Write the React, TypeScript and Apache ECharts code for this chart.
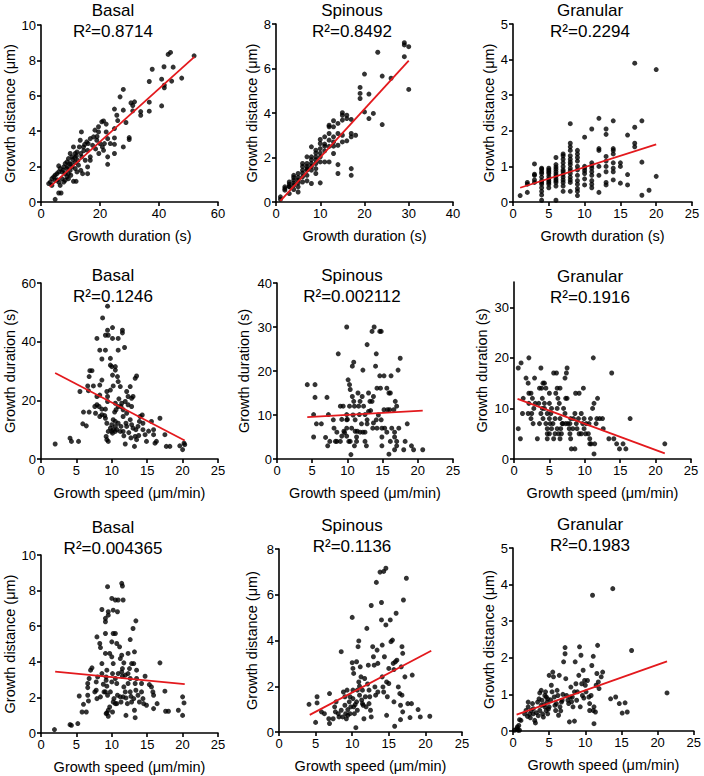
import React, { useEffect, useRef } from "react";
import * as echarts from "echarts";

const FONT = "'Liberation Sans', Arial, Helvetica, sans-serif";

// ---------- DATA ----------
const cellTypes = ["Basal", "Spinous", "Granular"];
const r2Labels = [
  ["R²=0.8714", "R²=0.8492", "R²=0.2294"],
  ["R²=0.1246", "R²=0.002112", "R²=0.1916"],
  ["R²=0.004365", "R²=0.1136", "R²=0.1983"],
];

// Row 1: growth duration (s) vs growth distance (µm)
const basalDurDist: [number, number][] = [
  [51.9, 8.26], [43.1, 8.34], [43.9, 8.45], [41.7, 7.64], [37.7, 7.5], [36.7, 6.81], [40.9, 6.94],
  [41.8, 6.6], [41.8, 6.45], [44.8, 7.62], [44.3, 6.83], [47.7, 7.0], [40.9, 5.43], [36.7, 5.64],
  [36.7, 5.13], [33.8, 5.11], [33.8, 4.9], [31.7, 5.66], [31.1, 5.45], [31.1, 5.15], [27.9, 6.36],
  [26.8, 5.94], [27.9, 5.19], [24.9, 5.25], [28.8, 4.49], [29.9, 3.64], [29.9, 3.53], [27.9, 3.11],
  [25.7, 4.9], [24.9, 4.15], [24.9, 3.62], [24.9, 3.26], [24.9, 2.74], [22.1, 4.4], [22.1, 3.96],
  [22.6, 3.58], [22.6, 2.55], [22.6, 2.13], [20.6, 4.53], [21.2, 4.58], [19.5, 4.25], [19.5, 3.96],
  [18.3, 4.06], [17.8, 3.68], [18.9, 3.49], [20.0, 3.3], [20.8, 3.11], [21.5, 3.3], [19.6, 2.74],
  [21.2, 2.92], [16.7, 3.58], [15.5, 3.4], [15.8, 2.92], [16.7, 2.55], [16.7, 2.36], [13.7, 3.96],
  [13.3, 3.49], [14.4, 3.11], [13.0, 3.11], [12.2, 2.83], [13.5, 2.74], [11.0, 3.11], [11.6, 2.74],
  [9.9, 2.74], [10.5, 2.55], [9.3, 2.45], [8.8, 2.26], [8.2, 2.17], [9.7, 2.17], [11.6, 2.23],
  [12.7, 2.08], [13.8, 2.55], [15.0, 2.36], [15.8, 1.98], [15.8, 1.6], [11.0, 1.17], [11.9, 1.17],
  [7.7, 1.98], [6.5, 1.89], [6.0, 1.7], [7.1, 1.7], [8.2, 1.6], [9.3, 1.6], [5.4, 1.6], [4.8, 1.51],
  [6.0, 2.04], [4.3, 1.42], [3.7, 1.32], [4.8, 1.23], [3.2, 1.13], [2.6, 1.04], [3.7, 0.94],
  [6.0, 1.13], [7.1, 1.32], [7.7, 1.13], [8.2, 1.23], [6.5, 0.94], [6.0, 0.51], [6.8, 0.51],
  [4.8, 0.15], [8.8, 1.42], [9.9, 1.79], [10.5, 1.98], [11.6, 1.89], [12.2, 1.7], [13.5, 1.79],
  [14.1, 1.6], [8.8, 1.89], [10.1, 1.51], [9.3, 1.32], [10.8, 2.4], [12.0, 2.6], [14.5, 2.9],
  [17.5, 3.2], [18.5, 3.0], [12.5, 2.35], [10.2, 2.15], [7.5, 1.8], [5.5, 1.25], [16.0, 3.3],
  [19.0, 3.7], [14.8, 3.25], [11.5, 2.5], [9.0, 2.0], [23.5, 3.3], [26.0, 4.6], [30.5, 5.6],
];

const spinousDurDist: [number, number][] = [
  [1, 0.23], [1, 0.12], [2, 0.68], [2, 0.53], [2, 0.6], [3, 0.9], [3, 0.68], [3, 0.38], [3, 0.8],
  [3, 0.7], [4, 1.2], [4, 0.98], [4, 0.75], [4, 0.56], [4, 1.1], [4, 0.85], [5, 1.28], [5, 0.98],
  [5, 0.68], [5, 0.45], [5, 1.1], [5, 0.85], [6, 1.73], [6, 1.43], [6, 1.13], [6, 0.9], [6, 1.6],
  [6, 1.3], [7, 2.03], [7, 1.73], [7, 1.43], [7, 1.2], [7, 1.6], [7, 0.95], [7, 1.5], [8, 2.48],
  [8, 2.03], [8, 1.73], [8, 1.43], [8, 0.83], [8, 1.9], [8, 1.6], [9, 2.33], [9, 2.03], [9, 1.73],
  [9, 1.5], [9, 1.28], [9, 2.2], [9, 1.9], [10, 2.81], [10, 2.63], [10, 2.4], [10, 2.03], [10, 0.86],
  [10, 1.8], [10, 2.2], [11, 2.93], [11, 2.51], [11, 2.3], [11, 1.8], [11, 2.6], [12, 3.38], [12, 3.08],
  [12, 2.78], [12, 1.8], [12, 3.45], [12, 2.5], [13, 3.38], [13, 2.93], [13, 2.51], [13, 2.18],
  [13, 3.65], [13, 2.7], [14, 3.53], [14, 3.08], [14, 2.55], [14, 1.68], [14, 1.28], [15, 4.01],
  [15, 3.9], [15, 3.68], [15, 3.0], [15, 2.7], [16, 3.9], [16, 3.75], [16, 2.75], [17, 3.71],
  [17, 3.08], [17, 2.93], [17, 1.5], [17, 1.2], [18, 3.0], [19, 5.15], [19, 4.88], [19, 4.65],
  [20, 5.75], [20, 4.05], [21, 4.85], [21, 3.75], [22, 3.98], [23, 6.73], [24, 5.66], [24, 3.48],
  [26, 5.56], [29, 7.16], [29, 7.06], [29, 6.53], [30, 6.98], [30, 5.06],
];

const granularDurDist: [number, number][] = [
  [1, 0.18], [2, 0.27], [2, 0.5], [2, 0.55], [3, 0.55], [3, 0.62], [3, 0.75], [3, 0.78], [3, 1.07],
  [4, 0.05], [4, 0.2], [4, 0.3], [4, 0.4], [4, 0.5], [4, 0.55], [4, 0.6], [4, 0.7], [4, 0.8], [4, 0.85],
  [4, 0.92], [4, 0.95], [5, 0.4], [5, 0.5], [5, 0.55], [5, 0.6], [5, 0.65], [5, 0.72], [5, 0.8],
  [5, 0.85], [5, 0.9], [5, 0.95], [6, 0.05], [6, 0.45], [6, 0.55], [6, 0.6], [6, 0.65], [6, 0.72],
  [6, 0.78], [6, 0.85], [6, 0.92], [6, 0.98], [6, 1.05], [6, 1.25], [7, 0.3], [7, 0.45], [7, 0.55],
  [7, 0.62], [7, 0.7], [7, 0.78], [7, 0.85], [7, 0.9], [7, 1.0], [7, 1.1], [7, 1.2], [7, 1.3], [7, 1.35],
  [8, 0.3], [8, 0.55], [8, 0.62], [8, 0.7], [8, 0.8], [8, 0.88], [8, 0.95], [8, 1.05], [8, 1.12],
  [8, 1.2], [8, 1.3], [8, 1.45], [8, 1.55], [8, 1.65], [8, 2.2], [9, 0.18], [9, 0.3], [9, 0.38],
  [9, 0.5], [9, 0.6], [9, 0.75], [9, 0.9], [9, 1.0], [9, 1.15], [9, 1.25], [9, 1.35], [9, 1.45],
  [10, 0.48], [10, 0.65], [10, 0.8], [10, 0.88], [10, 0.95], [10, 1.0], [10, 1.82], [11, 0.4],
  [11, 0.5], [11, 0.6], [11, 0.75], [11, 0.85], [11, 0.95], [11, 1.02], [11, 1.1], [11, 2.05],
  [12, 0.27], [12, 0.75], [12, 1.0], [12, 1.45], [12, 1.5], [12, 2.35], [13, 0.48], [13, 0.55],
  [13, 0.85], [13, 1.0], [13, 1.15], [13, 1.28], [13, 1.9], [13, 2.05], [14, 0.62], [14, 0.85],
  [14, 0.95], [14, 1.1], [14, 1.35], [14, 1.45], [14, 1.5], [14, 2.28], [15, 0.53], [15, 1.0],
  [15, 1.1], [16, 0.48], [16, 0.77], [16, 1.88], [17, 1.55], [17, 1.65], [17, 2.1], [17, 3.9],
  [18, 0.19], [18, 1.12], [18, 2.28], [19, 0.33], [20, 0.72], [20, 3.72],
];

// Row 2: growth speed (µm/min) vs growth duration (s)
const basalSpeedDur: [number, number][] = [
  [2.0, 5.1], [4.1, 7.1], [4.3, 6.0], [5.3, 6.0], [5.5, 23.0], [5.9, 12.0], [6.4, 11.3], [6.0, 16.0],
  [6.8, 16.0], [6.6, 24.9], [6.8, 28.1], [7.2, 30.1], [6.9, 30.1], [6.7, 23.3], [7.9, 41.1], [8.3, 37.1],
  [8.6, 34.1], [8.7, 48.1], [9.1, 37.1], [9.1, 42.2], [9.4, 43.9], [9.5, 42.2], [9.4, 52.1], [10.1, 44.8],
  [10.1, 41.1], [10.9, 41.1], [10.9, 37.1], [9.8, 34.3], [9.8, 32.0], [10.0, 31.5], [10.5, 31.5],
  [10.5, 30.3], [10.1, 28.6], [11.5, 43.9], [11.5, 43.0], [11.8, 38.0], [10.8, 28.1], [10.9, 26.4],
  [7.4, 24.9], [8.3, 25.2], [8.6, 26.9], [7.9, 21.3], [8.3, 21.8], [9.3, 23.0], [9.4, 21.3], [9.4, 19.6],
  [7.9, 18.5], [7.6, 17.9], [8.2, 17.9], [8.6, 17.0], [9.1, 17.0], [7.7, 15.6], [8.6, 15.1], [8.3, 14.5],
  [9.1, 13.9], [9.3, 12.2], [10.2, 24.9], [11.2, 24.7], [9.8, 23.5], [10.5, 19.0], [10.9, 17.9],
  [10.6, 16.8], [11.4, 19.0], [11.3, 17.9], [12.1, 23.0], [12.6, 24.7], [12.3, 21.3], [12.8, 20.7],
  [13.0, 21.3], [13.3, 27.5], [13.5, 28.3], [11.9, 19.6], [11.6, 16.8], [12.3, 18.5], [12.1, 15.6],
  [12.8, 17.9], [10.2, 13.4], [10.0, 11.7], [9.8, 10.5], [10.2, 10.0], [9.5, 9.4], [9.2, 7.7], [9.3, 6.6],
  [9.5, 6.0], [10.0, 9.4], [10.5, 9.4], [10.1, 8.8], [10.7, 10.0], [11.2, 9.4], [11.6, 14.5], [12.0, 12.2],
  [12.1, 11.1], [11.6, 9.4], [11.7, 7.9], [11.9, 5.1], [12.6, 13.4], [12.8, 11.7], [13.0, 10.5],
  [13.3, 7.7], [13.2, 4.3], [13.5, 6.6], [13.4, 10.0], [13.7, 11.1], [14.0, 14.5], [13.9, 12.8],
  [14.4, 12.2], [14.4, 10.0], [14.7, 8.3], [14.9, 6.0], [15.6, 12.8], [15.9, 10.0], [15.9, 8.3],
  [16.1, 5.4], [16.3, 6.0], [16.8, 13.9], [17.5, 8.3], [17.7, 4.3], [18.2, 4.3], [19.6, 4.5], [20.0, 3.2],
  [20.2, 5.4], [20.3, 4.9], [10.5, 12.8], [10.9, 12.2], [11.3, 11.1], [10.5, 11.1], [12.4, 9.0],
  [13.8, 8.0], [14.3, 15.0], [11.0, 20.5], [9.0, 14.8], [10.4, 16.0], [12.7, 7.2], [15.2, 9.5],
];

const spinousSpeedDur: [number, number][] = [
  [4.3, 16.9], [5.4, 16.9], [5.4, 14.0], [5.2, 10.1], [5.2, 5.0], [5.6, 8.0], [6.3, 8.0], [7.1, 14.0],
  [6.9, 4.9], [7.2, 3.0], [7.3, 10.1], [7.5, 4.0], [8.0, 8.9], [8.1, 7.0], [8.3, 4.0], [8.7, 23.9],
  [9.0, 12.0], [9.4, 12.0], [8.5, 6.1], [8.5, 4.0], [9.0, 4.0], [9.2, 5.2], [9.5, 6.3], [9.9, 30.0],
  [10.1, 18.0], [10.3, 16.9], [10.4, 15.8], [9.9, 10.1], [9.9, 8.9], [9.9, 7.0], [9.9, 5.2], [10.2, 4.0],
  [10.4, 4.0], [10.7, 21.1], [10.9, 22.0], [10.5, 1.0], [10.7, 14.2], [10.9, 13.1], [11.0, 12.0],
  [11.1, 8.9], [11.1, 6.3], [11.4, 6.3], [11.3, 4.0], [11.0, 3.0], [11.6, 12.0], [11.8, 13.1],
  [11.7, 10.1], [11.8, 6.1], [12.2, 6.1], [12.1, 14.2], [12.2, 20.2], [12.5, 6.1], [12.5, 4.0],
  [12.5, 10.1], [12.8, 26.0], [13.0, 15.0], [13.2, 13.1], [13.0, 10.8], [12.8, 8.9], [12.8, 8.0],
  [12.7, 3.0], [13.5, 29.0], [13.8, 30.0], [14.0, 21.1], [14.1, 23.9], [14.2, 16.1], [13.7, 14.2],
  [13.5, 13.1], [13.7, 8.2], [13.6, 7.0], [14.2, 7.0], [14.1, 8.9], [14.6, 29.0], [14.8, 29.0],
  [14.6, 18.9], [15.2, 18.9], [14.7, 16.1], [14.8, 8.9], [14.9, 7.0], [14.9, 5.0], [14.9, 3.0],
  [15.2, 11.2], [15.6, 16.1], [15.9, 15.0], [16.1, 15.0], [15.7, 11.2], [16.0, 11.2], [15.9, 1.1],
  [16.1, 4.0], [16.2, 18.9], [16.6, 11.2], [16.8, 13.1], [16.7, 6.1], [16.7, 5.0], [16.7, 2.1],
  [17.0, 4.0], [17.0, 3.0], [17.0, 12.0], [17.2, 20.2], [17.3, 7.0], [17.5, 22.9], [18.0, 2.1],
  [18.2, 4.0], [18.5, 8.0], [19.1, 3.0], [19.4, 2.1], [20.7, 2.1], [16.3, 7.0], [15.6, 6.1],
  [15.3, 7.0], [10.0, 9.0], [10.6, 7.0], [11.3, 5.0], [12.0, 8.0], [9.6, 6.0], [10.8, 10.0],
  [11.5, 15.0], [12.3, 12.0], [13.3, 11.0], [14.4, 10.0], [10.3, 12.0], [9.2, 9.0],
];

const granularSpeedDur: [number, number][] = [
  [0.6, 18], [1.0, 19], [1.3, 12], [1.2, 9], [0.6, 6], [0.9, 4], [1.7, 16], [2.1, 20], [2.0, 15],
  [2.1, 13], [2.4, 13], [2.1, 11], [2.0, 9], [2.5, 9], [2.4, 8], [2.6, 12], [2.8, 10], [2.7, 7],
  [2.9, 16], [3.3, 4], [3.5, 11], [3.6, 14], [3.8, 18], [3.9, 14], [3.8, 9], [3.6, 7], [4.0, 12],
  [4.1, 15], [4.3, 15], [4.5, 14], [4.3, 11], [4.3, 10], [4.1, 8], [4.5, 7], [4.7, 9], [4.7, 6],
  [4.7, 5], [4.7, 4], [5.0, 13], [5.0, 11], [5.0, 8], [5.1, 7], [5.0, 5], [5.3, 10], [5.3, 6],
  [5.6, 17], [6.0, 17], [5.8, 8], [5.8, 5], [5.6, 4], [5.9, 13], [6.1, 14], [6.2, 12], [6.1, 10],
  [6.1, 6], [6.3, 5], [6.5, 14], [6.5, 8], [6.5, 4], [6.7, 5], [6.8, 7], [7.2, 16], [7.4, 17],
  [7.5, 18], [7.3, 12], [7.5, 12], [7.2, 9], [7.3, 7], [7.6, 7], [7.8, 6], [7.9, 7], [7.9, 5], [8.0, 8],
  [8.0, 4], [8.1, 2], [8.3, 6], [8.6, 9], [8.6, 2], [8.7, 13], [8.8, 7], [8.9, 6], [9.1, 8], [9.2, 13],
  [9.2, 5], [9.5, 9], [9.7, 7], [9.8, 14], [9.9, 6], [9.9, 8], [10.1, 5], [10.2, 7], [10.5, 5], [10.6, 7],
  [10.7, 4], [10.7, 3], [10.9, 3], [10.8, 8], [11.1, 10], [11.2, 20], [11.3, 11], [11.3, 1], [11.4, 3],
  [11.6, 7], [11.8, 12], [11.7, 8], [12.1, 8], [12.5, 8], [12.6, 6], [13.4, 4], [13.8, 17], [14.1, 4],
  [14.5, 3], [14.9, 2], [15.4, 3], [15.8, 2], [16.4, 8], [21.3, 3], [5.5, 7], [6.6, 6], [7.0, 10],
  [8.4, 8], [5.2, 9], [6.9, 7], [3.0, 11], [4.0, 10], [9.5, 5], [6.4, 11],
];

// Row 3: growth speed (µm/min) vs growth distance (µm)
const basalSpeedDist: [number, number][] = [
  [1.9, 0.19], [4.1, 0.47], [4.3, 0.43], [5.2, 0.53], [5.4, 2.08], [5.8, 1.18], [6.0, 1.61], [6.4, 1.18],
  [6.6, 2.12], [6.6, 2.55], [6.6, 2.78], [6.8, 3.06], [7.0, 3.53], [7.2, 3.66], [6.7, 1.8], [7.6, 2.31],
  [7.8, 2.4], [7.9, 1.93], [7.8, 2.87], [7.9, 5.4], [8.0, 3.15], [8.3, 5.03], [8.4, 4.8], [8.4, 2.03],
  [8.6, 6.94], [8.6, 3.34], [8.6, 3.9], [8.8, 2.74], [8.9, 2.31], [9.1, 6.44], [9.1, 6.25], [9.1, 5.59],
  [9.1, 4.47], [9.1, 2.31], [9.2, 3.15], [9.2, 2.96], [9.3, 3.53], [9.3, 2.63], [9.4, 2.12], [9.3, 1.13],
  [9.5, 1.28], [9.4, 8.22], [9.5, 6.81], [9.5, 6.62], [9.2, 1.09], [9.5, 0.94], [9.7, 1.46], [9.8, 2.31],
  [9.7, 4.47], [10.0, 7.56], [10.2, 6.9], [10.5, 7.47], [10.0, 5.12], [10.2, 5.59], [10.0, 4.28],
  [10.2, 3.9], [10.1, 3.34], [10.0, 2.87], [10.2, 1.74], [10.5, 1.65], [10.5, 3.06], [10.7, 1.65],
  [10.3, 1.93], [10.1, 1.18], [10.5, 5.59], [10.7, 2.78], [10.8, 6.81], [10.9, 7.47], [10.7, 5.03],
  [11.1, 4.84], [11.2, 4.18], [10.9, 3.34], [11.2, 2.03], [11.3, 1.74], [10.8, 2.12], [11.4, 8.41],
  [11.5, 8.26], [11.6, 7.47], [11.4, 4.37], [11.7, 3.94], [11.5, 3.62], [11.4, 3.43], [11.5, 3.19],
  [11.9, 3.25], [11.7, 2.59], [11.9, 2.31], [11.6, 2.03], [12.0, 1.97], [12.0, 0.99], [12.2, 1.65],
  [12.3, 4.47], [12.6, 5.25], [12.8, 3.9], [12.5, 3.62], [12.3, 3.34], [12.6, 3.06], [12.3, 2.78],
  [12.6, 2.31], [12.7, 2.06], [12.8, 1.74], [13.0, 5.87], [13.4, 6.3], [13.1, 3.9], [13.2, 4.56],
  [13.3, 2.78], [13.4, 2.4], [13.1, 1.93], [13.2, 1.28], [13.3, 0.86], [13.5, 3.53], [13.5, 3.06],
  [13.7, 2.12], [13.9, 1.74], [14.2, 2.31], [14.2, 2.78], [14.4, 1.93], [14.5, 1.65], [14.7, 3.19],
  [14.9, 1.56], [15.3, 2.72], [15.6, 2.59], [15.8, 2.31], [15.9, 1.37], [15.9, 2.12], [16.4, 1.65],
  [16.8, 3.94], [17.5, 2.35], [17.6, 1.22], [18.0, 1.22], [19.4, 1.28], [20.0, 2.03], [20.0, 0.99],
  [20.2, 1.69],
];

const spinousSpeedDist: [number, number][] = [
  [4.1, 1.21], [5.2, 1.54], [5.2, 1.27], [5.0, 0.42], [5.8, 0.88], [6.2, 0.8], [6.9, 1.68], [6.9, 0.37],
  [6.8, 0.58], [7.4, 0.58], [7.6, 1.1], [7.8, 1.32], [7.7, 0.88], [8.1, 0.8], [8.2, 0.66], [8.5, 3.51],
  [8.5, 0.95], [8.7, 0.66], [8.8, 1.75], [9.0, 1.54], [9.0, 1.17], [9.1, 0.8], [9.2, 0.58], [9.3, 1.83],
  [9.4, 0.98], [9.4, 0.73], [9.6, 1.32], [9.7, 1.54], [9.7, 0.8], [10.0, 5.01], [10.0, 3.03],
  [10.1, 2.78], [10.2, 2.56], [10.1, 1.83], [10.1, 1.46], [10.2, 1.1], [10.3, 0.8], [10.5, 0.19],
  [10.6, 3.07], [10.6, 1.32], [10.7, 1.83], [10.7, 0.95], [10.8, 3.73], [10.9, 3.98], [10.9, 2.19],
  [11.0, 1.61], [11.1, 2.85], [11.2, 2.41], [11.4, 1.83], [11.4, 1.24], [11.5, 1.17], [11.6, 0.58],
  [11.7, 2.34], [11.8, 1.54], [11.9, 1.1], [12.0, 4.53], [12.2, 2.92], [12.3, 1.83], [12.3, 1.24],
  [12.4, 1.54], [12.5, 0.95], [12.6, 0.66], [12.6, 5.53], [12.8, 3.73], [12.9, 3.29], [13.0, 2.92],
  [13.1, 1.97], [13.2, 1.61], [13.3, 6.54], [13.4, 3.58], [13.5, 3.0], [13.5, 1.75], [13.8, 6.99],
  [14.0, 4.9], [14.0, 5.66], [14.1, 3.8], [14.1, 2.41], [14.2, 1.97], [14.3, 1.75], [14.3, 7.02],
  [14.4, 3.29], [14.6, 4.68], [14.6, 7.16], [14.7, 2.19], [14.7, 0.73], [14.8, 1.54], [15.0, 2.12],
  [15.0, 2.78], [15.2, 4.9], [15.3, 3.95], [15.5, 4.02], [15.6, 3.0], [15.7, 2.73], [15.7, 1.32],
  [15.8, 0.25], [15.9, 3.07], [16.0, 5.19], [16.1, 3.14], [16.3, 1.97], [16.5, 1.68], [16.6, 1.17],
  [16.6, 0.54], [16.7, 2.85], [16.8, 3.73], [16.9, 3.44], [17.0, 5.77], [16.8, 1.61], [16.9, 0.88],
  [17.2, 2.41], [17.4, 6.72], [17.6, 1.24], [17.9, 0.63], [18.2, 2.49], [18.1, 1.24], [19.0, 0.98],
  [19.3, 0.66], [20.6, 0.69], [11.0, 2.0], [10.4, 1.2], [9.8, 1.1], [11.3, 1.4], [12.1, 2.1],
];

const granularSpeedDist: [number, number][] = [
  [0.2, 0.02], [0.5, 0.06], [0.6, 0.11], [0.8, 0.15], [0.9, 0.31], [1.1, 0.29], [0.7, 0.02], [0.9, 0.02],
  [1.6, 0.47], [1.8, 0.56], [2.1, 0.66], [2.1, 0.79], [2.3, 0.46], [2.4, 0.36], [2.5, 0.56], [2.7, 0.75],
  [2.8, 0.47], [3.0, 0.29], [2.8, 0.61], [3.1, 0.22], [3.4, 0.79], [3.6, 0.88], [3.7, 1.04], [3.7, 0.56],
  [3.9, 1.11], [3.9, 0.7], [4.0, 0.84], [4.1, 0.47], [4.2, 0.38], [4.4, 0.97], [4.4, 0.66], [4.5, 1.07],
  [4.6, 0.93], [4.6, 0.56], [4.7, 0.79], [4.8, 0.88], [4.8, 0.47], [5.0, 0.66], [5.0, 1.52], [5.3, 1.25],
  [5.4, 1.07], [5.5, 1.61], [5.6, 1.48], [5.7, 0.93], [5.9, 0.56], [6.0, 0.75], [6.1, 1.11], [6.2, 0.97],
  [6.3, 0.43], [6.4, 1.52], [6.5, 0.66], [6.7, 0.79], [6.8, 0.84], [7.2, 2.28], [7.2, 2.11], [7.0, 1.89],
  [7.3, 1.43], [7.4, 0.97], [7.6, 0.84], [7.7, 0.75], [7.8, 0.25], [7.9, 0.93], [8.0, 1.2], [8.2, 0.93],
  [8.3, 0.66], [8.5, 0.27], [8.5, 1.07], [8.6, 1.89], [8.7, 1.29], [8.8, 0.84], [8.9, 1.07], [9.1, 1.52],
  [9.2, 2.3], [9.3, 0.66], [9.4, 2.07], [9.5, 1.29], [9.6, 0.97], [9.7, 1.66], [9.9, 1.38], [10.0, 1.25],
  [10.1, 1.07], [10.3, 1.38], [10.5, 0.93], [10.6, 0.75], [10.6, 0.56], [10.8, 0.97], [10.9, 1.79],
  [11.0, 3.71], [11.1, 2.04], [11.1, 0.56], [11.2, 0.2], [11.2, 0.66], [11.4, 0.52], [11.5, 1.25],
  [11.6, 1.57], [11.7, 2.34], [11.8, 1.34], [11.9, 1.16], [12.2, 1.48], [12.4, 1.61], [13.5, 0.88],
  [13.8, 3.89], [14.2, 0.93], [14.7, 0.75], [15.1, 0.49], [15.5, 0.77], [15.8, 0.52], [16.4, 2.2],
  [21.3, 1.04], [3.2, 0.5], [4.9, 0.6], [5.8, 0.7], [6.6, 0.55], [3.5, 0.42], [4.3, 0.72], [5.2, 0.85],
  [2.0, 0.4], [6.9, 1.0], [8.1, 0.8], [9.8, 0.9],
];

// Linear fit lines (endpoints)
const basalDurDistFit: [number, number][] = [[3, 0.85], [52, 8.2]];
const spinousDurDistFit: [number, number][] = [[1, 0.05], [30, 6.35]];
const granularDurDistFit: [number, number][] = [[1, 0.4], [20, 1.62]];
const basalSpeedDurFit: [number, number][] = [[2, 29.3], [20.3, 6.3]];
const spinousSpeedDurFit: [number, number][] = [[4.3, 9.5], [20.7, 11.0]];
const granularSpeedDurFit: [number, number][] = [[0.5, 11.9], [21.3, 1.1]];
const basalSpeedDistFit: [number, number][] = [[2, 3.45], [20.3, 2.75]];
const spinousSpeedDistFit: [number, number][] = [[4.2, 0.75], [20.8, 3.55]];
const granularSpeedDistFit: [number, number][] = [[0.5, 0.45], [21.3, 1.9]];

// Axis ranges [min, max, interval]
const durationAxisBasal = [0, 60, 20];
const durationAxisSpinous = [0, 40, 10];
const durationAxisGranular = [0, 25, 5];
const speedAxis = [0, 25, 5];
const distAxisBasal = [0, 10, 2];
const distAxisSpinous = [0, 8, 2];
const distAxisGranular = [0, 5, 1];
const durYAxisBasal = [0, 60, 20];
const durYAxisSpinous = [0, 40, 10];
const durYAxisGranular = [0, 35, 10];
const durYTicksGranular = [0, 10, 20, 30];

const X_DUR = "Growth duration (s)";
const X_SPEED = "Growth speed (μm/min)";
const Y_DIST = "Growth distance (μm)";
const Y_DUR = "Growth duration (s)";

// ---------- LAYOUT ----------
type Panel = {
  grid: [number, number, number, number];
  xr: number[];
  yr: number[];
  yTicks?: number[];
  xName: string;
  yName: string;
  yGap: number;
  data: [number, number][];
  fit: [number, number][];
  title: string;
  r2: string;
  tx: number;
  ty: number;
};

const panels: Panel[] = [
  { grid: [41, 25, 177, 177], xr: durationAxisBasal, yr: distAxisBasal, xName: X_DUR, yName: Y_DIST, yGap: 24, data: basalDurDist, fit: basalDurDistFit, title: cellTypes[0], r2: r2Labels[0][0], tx: 113, ty: 10 },
  { grid: [276, 24, 177, 178], xr: durationAxisSpinous, yr: distAxisSpinous, xName: X_DUR, yName: Y_DIST, yGap: 17, data: spinousDurDist, fit: spinousDurDistFit, title: cellTypes[1], r2: r2Labels[0][1], tx: 352, ty: 10 },
  { grid: [513, 24, 179, 178], xr: durationAxisGranular, yr: distAxisGranular, xName: X_DUR, yName: Y_DIST, yGap: 16, data: granularDurDist, fit: granularDurDistFit, title: cellTypes[2], r2: r2Labels[0][2], tx: 590, ty: 10 },
  { grid: [41, 283, 177, 176], xr: speedAxis, yr: durYAxisBasal, xName: X_SPEED, yName: Y_DUR, yGap: 24, data: basalSpeedDur, fit: basalSpeedDurFit, title: cellTypes[0], r2: r2Labels[1][0], tx: 113, ty: 275 },
  { grid: [277, 283, 176, 176], xr: speedAxis, yr: durYAxisSpinous, xName: X_SPEED, yName: Y_DUR, yGap: 26, data: spinousSpeedDur, fit: spinousSpeedDurFit, title: cellTypes[1], r2: r2Labels[1][1], tx: 352, ty: 275 },
  { grid: [514, 282, 177, 177], xr: speedAxis, yr: durYAxisGranular, yTicks: durYTicksGranular, xName: X_SPEED, yName: Y_DUR, yGap: 25, data: granularSpeedDur, fit: granularSpeedDurFit, title: cellTypes[2], r2: r2Labels[1][2], tx: 590, ty: 276 },
  { grid: [41, 555, 177, 178], xr: speedAxis, yr: distAxisBasal, xName: X_SPEED, yName: Y_DIST, yGap: 24, data: basalSpeedDist, fit: basalSpeedDistFit, title: cellTypes[0], r2: r2Labels[2][0], tx: 113, ty: 527 },
  { grid: [279, 549, 183, 183], xr: speedAxis, yr: distAxisSpinous, xName: X_SPEED, yName: Y_DIST, yGap: 20, data: spinousSpeedDist, fit: spinousSpeedDistFit, title: cellTypes[1], r2: r2Labels[2][1], tx: 352, ty: 525 },
  { grid: [513, 548, 182, 183], xr: speedAxis, yr: distAxisGranular, xName: X_SPEED, yName: Y_DIST, yGap: 16, data: granularSpeedDist, fit: granularSpeedDistFit, title: cellTypes[2], r2: r2Labels[2][2], tx: 590, ty: 524 },
];

const axisStyle = {
  axisLine: { show: true, onZero: false, lineStyle: { color: "#000", width: 1.6 } },
  axisLabel: { color: "#000", fontSize: 13, fontFamily: FONT },
  splitLine: { show: false },
  nameLocation: "middle" as const,
  nameTextStyle: { color: "#000", fontSize: 14.5, fontFamily: FONT },
};

function buildOption() {
  const grid = panels.map((p) => ({
    left: p.grid[0], top: p.grid[1], width: p.grid[2], height: p.grid[3], containLabel: false,
  }));
  const xAxis = panels.map((p, i) => ({
    type: "value", gridIndex: i, min: p.xr[0], max: p.xr[1], interval: p.xr[2],
    name: p.xName, nameGap: 26,
    ...axisStyle,
    axisTick: { show: true, length: 4, lineStyle: { color: "#000", width: 1.6 } },
    axisLabel: { ...axisStyle.axisLabel, margin: 5 },
  }));
  const yAxis = panels.map((p, i) => {
    const base: any = {
      type: "value", gridIndex: i, min: p.yr[0], max: p.yr[1],
      name: p.yName, nameGap: p.yGap,
      ...axisStyle,
      axisTick: { show: true, length: 4, lineStyle: { color: "#000", width: 1.6 } },
      axisLabel: { ...axisStyle.axisLabel, margin: 5 },
    };
    if (p.yTicks) {
      base.axisTick.customValues = p.yTicks;
      base.axisLabel.customValues = p.yTicks;
    } else {
      base.interval = p.yr[2];
    }
    return base;
  });
  const series: any[] = [];
  panels.forEach((p, i) => {
    series.push({
      type: "scatter", xAxisIndex: i, yAxisIndex: i, data: p.data,
      symbol: "circle", symbolSize: 5, itemStyle: { color: "#000" }, silent: true,
    });
    series.push({
      type: "line", xAxisIndex: i, yAxisIndex: i, data: p.fit, symbol: "none",
      lineStyle: { color: "#e3191d", width: 1.8 }, silent: true, z: 3,
    });
  });
  const graphic: any[] = [];
  panels.forEach((p) => {
    graphic.push({
      type: "text", x: p.tx, y: p.ty,
      style: { text: p.title, fontSize: 17, fontFamily: FONT, fill: "#000", textAlign: "center", textVerticalAlign: "middle" },
    });
    graphic.push({
      type: "text", x: p.tx, y: p.ty + 21,
      style: { text: p.r2, fontSize: 17, fontFamily: FONT, fill: "#000", textAlign: "center", textVerticalAlign: "middle" },
    });
  });
  return { animation: false, backgroundColor: "#fff", grid, xAxis, yAxis, series, graphic };
}

export default function App() {
  const ref = useRef<HTMLDivElement>(null);
  useEffect(() => {
    if (!ref.current) return;
    const chart = echarts.init(ref.current, null, { renderer: "svg" });
    chart.setOption(buildOption() as any);
    return () => chart.dispose();
  }, []);
  return (
    <div
      ref={ref}
      style={{ position: "absolute", left: 0, top: 0, width: 704, height: 776, background: "#fff" }}
    />
  );
}
